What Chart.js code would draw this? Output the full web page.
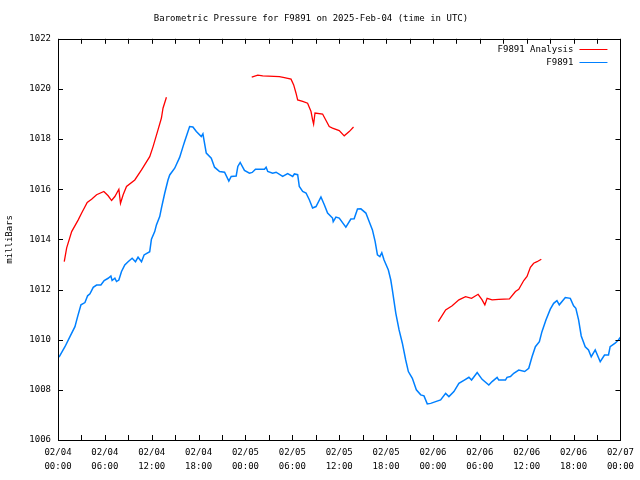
<!DOCTYPE html>
<html>
<head>
<meta charset="utf-8">
<script src="https://cdn.jsdelivr.net/npm/chart.js@4.4.1/dist/chart.umd.min.js"></script>
<style>
  html, body { margin: 0; padding: 0; background: #fff; }
  #wrap { width: 640px; height: 480px; }
</style>
</head>
<body>
<div id="wrap"><canvas id="pressureChart"></canvas></div>
<script>
// hours since 2025-02-04 00:00 UTC
const pressureHours = [0.13, 0.89, 1.53, 2.17, 2.51, 2.94, 3.45, 3.79, 4.09, 4.51, 4.94, 5.49, 5.91, 6.42, 6.77, 6.93, 7.28, 7.49, 7.79, 8.13,
  8.55, 8.97, 9.49, 9.92, 10.25, 10.69, 11.02, 11.74, 11.96, 12.38, 12.6, 13.02, 13.24, 13.66, 14.08, 14.3, 14.94, 15.57, 16.0, 16.21,
  16.85, 17.27, 17.71, 18.34, 18.55, 18.98, 19.62, 20.04, 20.68, 21.32, 21.87, 22.17, 22.81, 23.02, 23.32, 23.87, 24.51, 24.86, 25.28, 26.43,
  26.64, 26.85, 27.48, 27.92, 28.76, 29.4, 30.04, 30.26, 30.68, 30.89, 31.32, 31.75, 32.17, 32.59, 33.03, 33.66, 34.09, 34.51, 35.14, 35.23,
  35.58, 36.0, 36.85, 37.49, 37.91, 38.34, 38.77, 39.41, 39.83, 40.25, 40.6, 40.89, 41.2, 41.45, 41.74, 42.29, 42.6, 42.8, 43.24, 43.66,
  44.08, 44.51, 44.85, 45.36, 45.87, 46.43, 46.85, 47.27, 47.71, 48.34, 48.98, 49.62, 50.04, 50.68, 51.32, 51.96, 52.6, 52.94, 53.66, 54.29,
  55.15, 55.57, 56.21, 56.42, 57.28, 57.48, 57.92, 58.34, 58.98, 59.74, 60.26, 60.68, 61.11, 61.62, 61.95, 62.46, 63.02, 63.45, 63.87, 64.17,
  64.94, 65.58, 66.0, 66.29, 66.64, 66.98, 67.49, 67.91, 68.26, 68.77, 69.41, 69.96, 70.47, 70.68, 71.32, 71.74, 72.0];
const pressureValues = [1009.31, 1009.72, 1010.12, 1010.52, 1010.92, 1011.39, 1011.48, 1011.75, 1011.83, 1012.09, 1012.18, 1012.18, 1012.36, 1012.45, 1012.54, 1012.36, 1012.45, 1012.32, 1012.38, 1012.72,
  1012.98, 1013.11, 1013.25, 1013.11, 1013.29, 1013.11, 1013.38, 1013.51, 1014.01, 1014.31, 1014.58, 1014.91, 1015.25, 1015.84, 1016.37, 1016.57, 1016.84, 1017.27, 1017.70, 1017.90,
  1018.50, 1018.48, 1018.30, 1018.10, 1018.21, 1017.44, 1017.24, 1016.88, 1016.71, 1016.68, 1016.33, 1016.51, 1016.53, 1016.91, 1017.07, 1016.75, 1016.64, 1016.67, 1016.80, 1016.80,
  1016.88, 1016.71, 1016.64, 1016.68, 1016.51, 1016.62, 1016.51, 1016.61, 1016.58, 1016.11, 1015.91, 1015.85, 1015.58, 1015.25, 1015.31, 1015.69, 1015.38, 1015.05, 1014.85, 1014.71,
  1014.89, 1014.85, 1014.49, 1014.81, 1014.82, 1015.21, 1015.22, 1015.05, 1014.71, 1014.38, 1013.91, 1013.38, 1013.31, 1013.47, 1013.18, 1012.78, 1012.38, 1011.99, 1011.06, 1010.39,
  1009.86, 1009.19, 1008.73, 1008.46, 1008.00, 1007.80, 1007.76, 1007.44, 1007.46, 1007.53, 1007.60, 1007.86, 1007.73, 1007.93, 1008.26, 1008.38, 1008.50, 1008.39, 1008.69, 1008.42,
  1008.19, 1008.33, 1008.50, 1008.39, 1008.39, 1008.50, 1008.53, 1008.66, 1008.79, 1008.73, 1008.86, 1009.32, 1009.72, 1009.92, 1010.32, 1010.79, 1011.22, 1011.45, 1011.56, 1011.39,
  1011.68, 1011.65, 1011.35, 1011.25, 1010.79, 1010.15, 1009.72, 1009.59, 1009.32, 1009.59, 1009.12, 1009.39, 1009.39, 1009.72, 1009.86, 1009.99, 1010.10];

// analysis has gaps (null breaks the line)
const analysisHours = [0.80, 1.11, 1.75, 2.59, 3.03, 3.74, 4.30, 4.94, 5.87, 6.42, 6.86, 7.28, 7.79, 8.0, 8.34, 8.77, 9.83, 10.69, 11.74, 12.17, 12.80, 13.24, 13.44, 13.88,
  19.0,
  24.8, 25.57, 26.21, 28.34, 28.98, 29.83, 30.17, 30.47, 30.68, 31.32, 31.95, 32.39, 32.59, 32.72, 32.9, 33.87, 34.72, 35.14, 36.0, 36.64, 37.28, 37.83,
  43.0,
  48.68, 49.62, 50.46, 51.32, 52.17, 52.94, 53.78, 54.29, 54.64, 54.93, 55.57, 56.42, 57.79, 58.56, 58.98, 59.62, 60.04, 60.47, 60.89, 61.32, 61.87];
const analysisValues = [1013.11, 1013.66, 1014.31, 1014.78, 1015.05, 1015.47, 1015.60, 1015.78, 1015.91, 1015.74, 1015.55, 1015.71, 1016.00, 1015.44, 1015.78, 1016.11, 1016.37, 1016.77, 1017.30, 1017.70, 1018.37, 1018.84, 1019.23, 1019.67,
  null,
  1020.47, 1020.55, 1020.52, 1020.49, 1020.45, 1020.39, 1020.16, 1019.83, 1019.56, 1019.50, 1019.43, 1019.10, 1018.77, 1018.60, 1019.04, 1019.00, 1018.50, 1018.44, 1018.34, 1018.13, 1018.30, 1018.48,
  null,
  1010.72, 1011.19, 1011.35, 1011.59, 1011.72, 1011.65, 1011.81, 1011.59, 1011.39, 1011.65, 1011.59, 1011.61, 1011.63, 1011.92, 1012.01, 1012.36, 1012.52, 1012.89, 1013.05, 1013.11, 1013.21];

const tickDays = ['02/04', '02/04', '02/04', '02/04', '02/05', '02/05', '02/05', '02/05', '02/06', '02/06', '02/06', '02/06', '02/07'];
const tickTimes = ['00:00', '06:00', '12:00', '18:00', '00:00', '06:00', '12:00', '18:00', '00:00', '06:00', '12:00', '18:00', '00:00'];

const mono = '"DejaVu Sans Mono", "Liberation Mono", monospace';

function toPoints(xs, ys) {
    return xs.map((h, i) => ({ x: h, y: ys[i] }));
}

// gnuplot style frame: border, inward ticks on all four sides, legend at top right
const frameTicks = {
    id: 'frameTicks',
    afterDraw(chart) {
        const ctx = chart.ctx;
        const a = chart.chartArea;
        const x = chart.scales.x;
        const y = chart.scales.y;
        const tl = 5;
        ctx.save();
        ctx.strokeStyle = '#000';
        ctx.lineWidth = 1;
        ctx.beginPath();
        x.ticks.forEach(t => {
            const px = Math.round(x.getPixelForValue(t.value)) + 0.5;
            ctx.moveTo(px, a.bottom); ctx.lineTo(px, a.bottom - tl);
            ctx.moveTo(px, a.top); ctx.lineTo(px, a.top + tl);
        });
        y.ticks.forEach(t => {
            const py = Math.round(y.getPixelForValue(t.value)) + 0.5;
            ctx.moveTo(a.left, py); ctx.lineTo(a.left + tl, py);
            ctx.moveTo(a.right, py); ctx.lineTo(a.right - tl, py);
        });
        ctx.stroke();
        ctx.strokeRect(Math.round(a.left) + 0.5, Math.round(a.top) + 0.5,
            Math.round(a.right - a.left), Math.round(a.bottom - a.top));

        ctx.font = '9px ' + mono;
        ctx.fillStyle = '#000';
        ctx.textAlign = 'right';
        ctx.textBaseline = 'middle';
        chart.data.datasets.forEach((ds, i) => {
            const ly = Math.round(a.top + 10 + i * 13.5) + 0.5;
            ctx.fillText(ds.label, a.right - 47, ly);
            ctx.strokeStyle = ds.borderColor;
            ctx.beginPath();
            ctx.moveTo(a.right - 41, ly);
            ctx.lineTo(a.right - 13, ly);
            ctx.stroke();
        });
        ctx.restore();
    }
};

const ctx = document.getElementById('pressureChart').getContext('2d');
new Chart(ctx, {
    type: 'line',
    plugins: [frameTicks],
    data: {
        datasets: [
            {
                label: 'F9891 Analysis',
                data: toPoints(analysisHours, analysisValues),
                borderColor: '#ff0000',
                borderWidth: 1.3,
                pointRadius: 0,
                tension: 0,
                spanGaps: false,
            },
            {
                label: 'F9891',
                data: toPoints(pressureHours, pressureValues),
                borderColor: '#0080ff',
                borderWidth: 1.5,
                pointRadius: 0,
                tension: 0,
            },
        ],
    },
    options: {
        responsive: true,
        maintainAspectRatio: false,
        animation: false,
        layout: { padding: { left: 0, right: 18, top: 0, bottom: 0 } },
        scales: {
            x: {
                type: 'linear',
                min: 0,
                max: 72,
                grid: { display: false, drawTicks: false },
                border: { display: false },
                afterFit(scale) { scale.height = 40; },
                ticks: {
                    stepSize: 3,
                    autoSkip: false,
                    maxRotation: 0,
                    padding: 6,
                    color: '#000',
                    font: { family: mono, size: 9, lineHeight: 1.55 },
                    callback: function(value) {
                        if (value % 6 !== 0) return '';
                        const i = value / 6;
                        return [tickDays[i], tickTimes[i]];
                    },
                },
            },
            y: {
                min: 1006,
                max: 1022,
                grid: { display: false, drawTicks: false },
                border: { display: false },
                afterFit(scale) { scale.width = 58; },
                ticks: {
                    stepSize: 2,
                    padding: 7,
                    color: '#000',
                    font: { family: mono, size: 9 },
                    callback: value => String(value),
                },
                title: {
                    display: true,
                    text: 'milliBars',
                    color: '#000',
                    font: { family: mono, size: 9 },
                    padding: { top: 4, bottom: 0 },
                },
            },
        },
        plugins: {
            legend: { display: false },
            tooltip: { enabled: false },
            title: {
                display: true,
                text: 'Barometric Pressure for F9891 on 2025-Feb-04 (time in UTC)',
                color: '#000',
                font: { family: mono, size: 9, weight: 'normal' },
                padding: { top: 13, bottom: 15 },
            },
        },
    },
});
</script>
</body>
</html>
